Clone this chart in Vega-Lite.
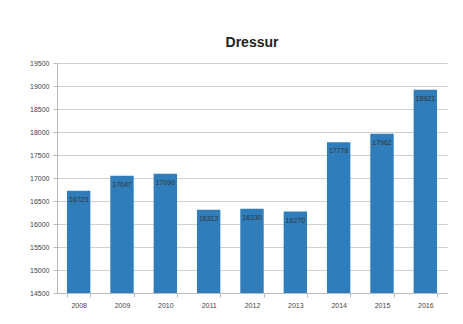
{
  "$schema": "https://vega.github.io/schema/vega-lite/v6.json",
  "width": 390,
  "height": 230,
  "autosize": {"type": "none"},
  "padding": {"left": 57, "top": 63, "right": 16, "bottom": 31},
  "background": "white",
  "title": {"text": "Dressur", "fontSize": 14, "font": "Liberation Sans", "fontWeight": "bold", "color": "#222", "offset": 9, "anchor": "middle"},
  "config": {"view": {"stroke": null}},
  "data": {"values": [
    {"year": "2008", "value": 16723},
    {"year": "2009", "value": 17047},
    {"year": "2010", "value": 17090},
    {"year": "2011", "value": 16312},
    {"year": "2012", "value": 16330},
    {"year": "2013", "value": 16270},
    {"year": "2014", "value": 17776},
    {"year": "2015", "value": 17962},
    {"year": "2016", "value": 18921}
  ]},
  "encoding": {
    "x": {"field": "year", "type": "nominal", "scale": {"paddingInner": 0.46, "paddingOuter": 0.23},
      "axis": {"title": null, "labelAngle": 0, "labelFontSize": 7, "labelColor": "#444", "labelFont": "Liberation Sans", "domainColor": "#bbb", "tickColor": "#bbb", "tickBand": "extent", "tickSize": 4, "labelPadding": 4}},
    "y": {"field": "value", "type": "quantitative", "scale": {"domain": [14500, 19500], "zero": false, "nice": false},
      "axis": {"title": null, "values": [14500,15000,15500,16000,16500,17000,17500,18000,18500,19000,19500], "format": "d", "labelFontSize": 7, "labelColor": "#444", "labelFont": "Liberation Sans", "domainColor": "#bbb", "tickColor": "#bbb", "tickSize": 4, "gridColor": "#d0d0d0", "labelPadding": 4}}
  },
  "layer": [
    {"mark": {"type": "bar", "color": "#2f7ebb", "clip": true}},
    {"mark": {"type": "text", "dy": 9, "fontSize": 7, "color": "#333", "font": "Liberation Sans"}, "encoding": {"text": {"field": "value", "type": "quantitative", "format": "d"}}}
  ]
}
